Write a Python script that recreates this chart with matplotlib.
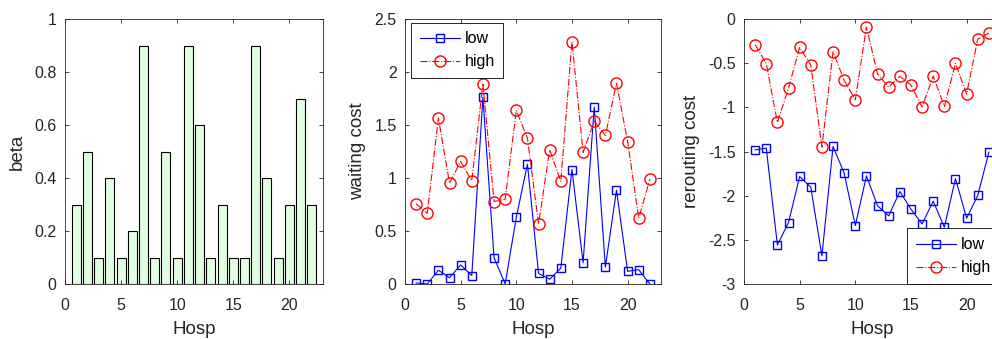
import numpy as np
import matplotlib
matplotlib.use('Agg')
import matplotlib.pyplot as plt

plt.rcParams['font.family'] = ['Liberation Sans', 'DejaVu Sans']
plt.rcParams['font.size'] = 11
plt.rcParams['axes.linewidth'] = 0.6
plt.rcParams['axes.edgecolor'] = '#262626'
plt.rcParams['xtick.color'] = '#262626'
plt.rcParams['ytick.color'] = '#262626'
plt.rcParams['xtick.direction'] = 'in'
plt.rcParams['ytick.direction'] = 'in'
plt.rcParams['xtick.top'] = True
plt.rcParams['ytick.right'] = True
plt.rcParams['xtick.major.size'] = 3
plt.rcParams['ytick.major.size'] = 3
plt.rcParams['xtick.major.width'] = 0.6
plt.rcParams['ytick.major.width'] = 0.6
plt.rcParams['xtick.major.pad'] = 10
plt.rcParams['ytick.major.pad'] = 6

hosp = np.arange(1, 23)
beta = [0.3, 0.5, 0.1, 0.4, 0.1, 0.2, 0.9, 0.1, 0.5, 0.1, 0.9,
        0.6, 0.1, 0.3, 0.1, 0.1, 0.9, 0.4, 0.1, 0.3, 0.7, 0.3]
wait_low = [0.01, 0.0, 0.13, 0.06, 0.18, 0.08, 1.76, 0.25, 0.0, 0.63, 1.13,
            0.10, 0.045, 0.15, 1.08, 0.20, 1.67, 0.16, 0.885, 0.12, 0.135, 0.0]
wait_high = [0.756, 0.667, 1.565, 0.951, 1.156, 0.976, 1.886, 0.778, 0.80, 1.637, 1.376,
             0.567, 1.266, 0.967, 2.286, 1.241, 1.537, 1.401, 1.895, 1.344, 0.62, 0.989]
rer_low = [-1.481, -1.462, -2.558, -2.304, -1.783, -1.904, -2.682, -1.443, -1.745, -2.338, -1.776,
           -2.115, -2.229, -1.953, -2.153, -2.32, -2.063, -2.357, -1.806, -2.255, -1.998, -1.508]
rer_high = [-0.291, -0.506, -1.171, -0.782, -0.321, -0.521, -1.451, -0.370, -0.695, -0.914, -0.091,
            -0.623, -0.771, -0.650, -0.748, -0.997, -0.646, -0.990, -0.502, -0.850, -0.227, -0.159]

W, H = 992, 339
fig = plt.figure(figsize=(W/100, H/100), dpi=100)

def ax_at(x0, x1):
    return fig.add_axes([x0/W, (H-284)/H, (x1-x0)/W, 265/H])

tc = '#262626'
lab = dict(fontsize=13.5, color=tc)
leg = dict(fancybox=False, edgecolor='black', framealpha=1, handlelength=2.5,
           handletextpad=0.3, borderpad=0.55, labelspacing=0.5, fontsize=11.5,
           borderaxespad=0)

# panel 1: beta bars
ax1 = ax_at(65, 323)
ax1.bar(hosp, beta, width=0.8, color='#e0ffe0', edgecolor='black', linewidth=0.8)
ax1.set_xlim(0, 23)
ax1.set_ylim(0, 1)
ax1.set_xticks([0, 5, 10, 15, 20])
ax1.set_yticks([0, 0.2, 0.4, 0.6, 0.8, 1])
ax1.set_yticklabels(['0', '0.2', '0.4', '0.6', '0.8', '1'])
ax1.set_xlabel('Hosp', labelpad=6, **lab)
ax1.set_ylabel('beta', labelpad=6, **lab)

# panel 2: waiting cost
ax2 = ax_at(405, 661)
ax2.plot(hosp, wait_low, 'b-', marker='s', ms=6, mfc='none', lw=0.8, label='low')
ax2.plot(hosp, wait_high, 'r-.', marker='o', ms=8, mfc='none', lw=0.8, label='high')
ax2.set_xlim(0, 23)
ax2.set_ylim(0, 2.5)
ax2.set_xticks([0, 5, 10, 15, 20])
ax2.set_yticks([0, 0.5, 1, 1.5, 2, 2.5])
ax2.set_yticklabels(['0', '0.5', '1', '1.5', '2', '2.5'])
ax2.set_xlabel('Hosp', labelpad=6, **lab)
ax2.set_ylabel('waiting cost', labelpad=6, **lab)
lg = ax2.legend(loc='upper left', bbox_to_anchor=(0.023, 0.986), **leg)
lg.get_frame().set_linewidth(0.6)

# panel 3: rerouting cost (runs off the right edge)
ax3 = ax_at(744, 1000)
ax3.plot(hosp, rer_low, 'b-', marker='s', ms=6, mfc='none', lw=0.8, label='low')
ax3.plot(hosp, rer_high, 'r-.', marker='o', ms=8, mfc='none', lw=0.8, label='high')
ax3.set_xlim(0, 23)
ax3.set_ylim(-3, 0)
ax3.set_xticks([0, 5, 10, 15, 20])
ax3.set_yticks([-3, -2.5, -2, -1.5, -1, -0.5, 0])
ax3.set_yticklabels(['-3', '-2.5', '-2', '-1.5', '-1', '-0.5', '0'])
ax3.set_xlabel('Hosp', labelpad=6, **lab)
ax3.set_ylabel('rerouting cost', labelpad=6, **lab)
lg3 = ax3.legend(loc='lower right', bbox_to_anchor=(1.0, 0.0), **leg)
lg3.get_frame().set_linewidth(0.6)

for ax in (ax1, ax2, ax3):
    ax.tick_params(labelsize=11.5)

fig.savefig('out.png', dpi=100)
